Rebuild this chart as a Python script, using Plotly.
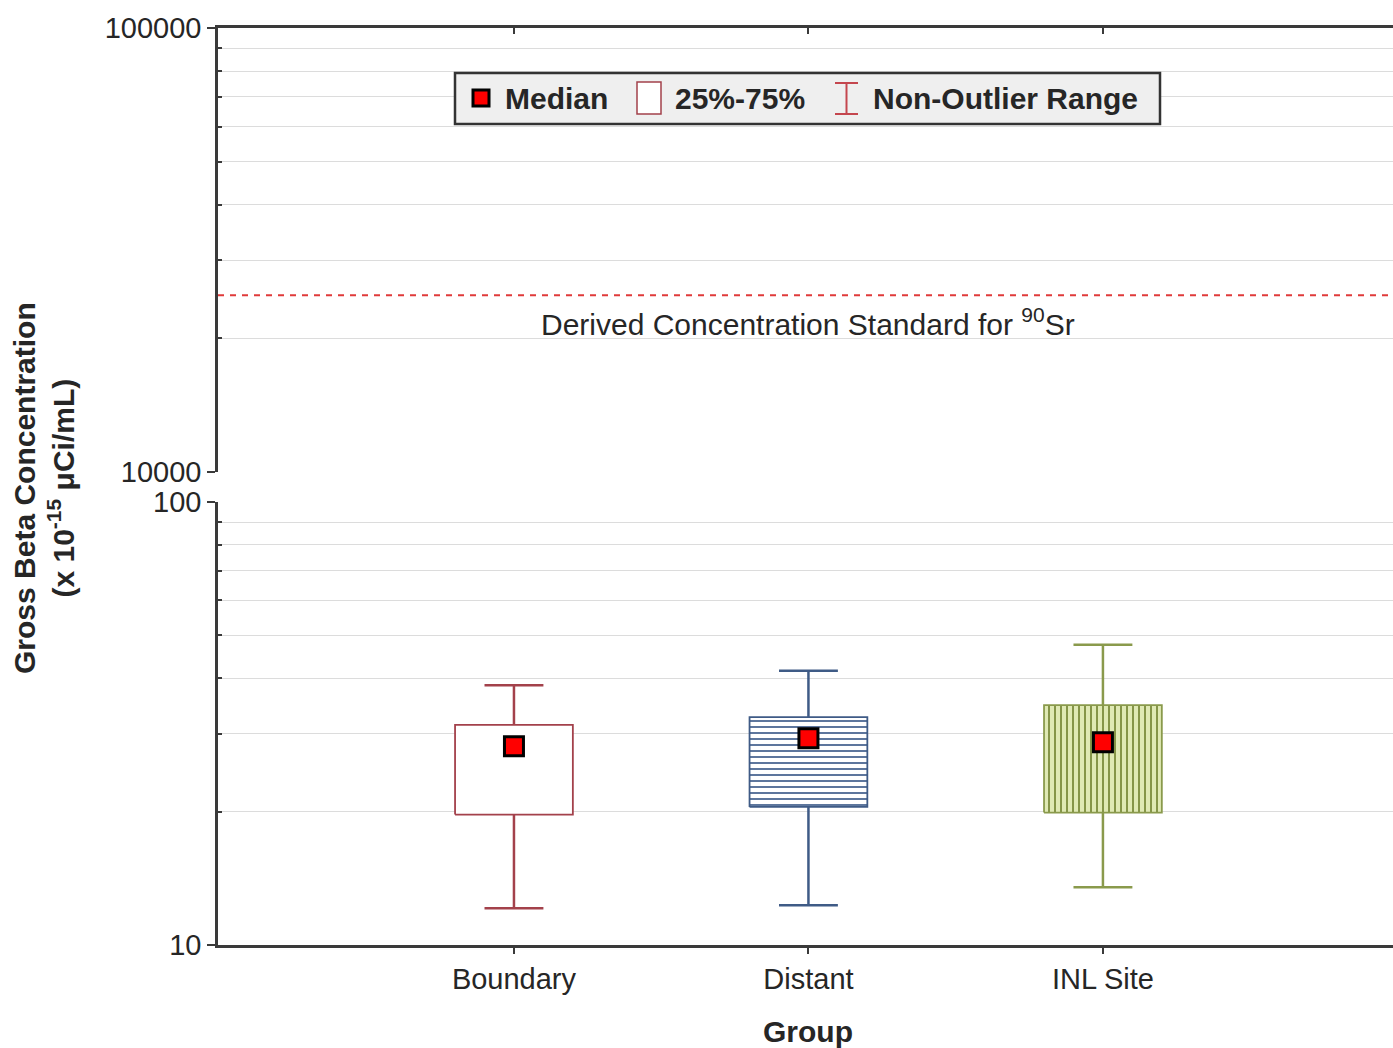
import numpy as np
import plotly.graph_objects as go

# Summary statistics per sampling group (x 10^-15 µCi/mL)
groups = ["Boundary", "Distant", "INL Site"]
q1 = [19.7, 20.5, 19.9]
q3 = [31.4, 32.7, 34.8]
median = [28.1, 29.3, 28.7]
whisker_low = [12.1, 12.3, 13.5]
whisker_high = [38.6, 41.6, 47.6]

# Derived Concentration Standard for Sr-90
dcs_value = 25000

lower_ticks = [10, 100]
upper_ticks = [10000, 100000]

# Styling
FONT = "Arial, Liberation Sans, sans-serif"
TEXT = "#262626"
AXIS = "#3a3a3a"
GRID = "#dcdcdc"
edge_colors = ["#a3414b", "#3f5b86", "#8a9a4c"]
fill_bg = ["#ffffff", "#ffffff", "#dfe9b4"]
patterns = ["", "-", "|"]
pattern_fg = ["#a3414b", "#4a6692", "#7b8c3c"]

W, H = 1393, 1048
ML, MR, MT, MB = 218, 0, 28, 103
PW, PH = W - ML - MR, H - MT - MB

def px_x(px):
    return (px - ML) / PW

def px_y(py):
    return (H - MB - py) / PH

positions = np.arange(1, len(groups) + 1)
box_half = 0.2
cap_half = 0.1

fig = go.Figure()

for i, g in enumerate(groups):
    p = positions[i]
    # whiskers with caps
    fig.add_trace(go.Scatter(
        x=[p, p, None, p - cap_half, p + cap_half, None,
           p, p, None, p - cap_half, p + cap_half],
        y=[q3[i], whisker_high[i], None, whisker_high[i], whisker_high[i], None,
           q1[i], whisker_low[i], None, whisker_low[i], whisker_low[i]],
        mode="lines", line=dict(color=edge_colors[i], width=2.5),
        showlegend=False, hoverinfo="skip", xaxis="x", yaxis="y"))
    # 25%-75% box
    fig.add_trace(go.Scatter(
        x=[p - box_half, p + box_half, p + box_half, p - box_half, p - box_half],
        y=[q1[i], q1[i], q3[i], q3[i], q1[i]],
        mode="lines", fill="toself",
        fillcolor=fill_bg[i],
        fillpattern=dict(shape=patterns[i], fgcolor=pattern_fg[i],
                         bgcolor=fill_bg[i], size=6, solidity=0.3,
                         fillmode="replace"),
        line=dict(color=edge_colors[i], width=1.8),
        showlegend=False, hoverinfo="skip", xaxis="x", yaxis="y"))

# medians
fig.add_trace(go.Scatter(
    x=positions, y=median, mode="markers",
    marker=dict(symbol="square", size=19, color="#ff0000",
                line=dict(color="#000000", width=3)),
    showlegend=False, hoverinfo="skip", xaxis="x", yaxis="y"))

# DCS reference line on the upper segment
x_range = [-0.005, 3.985]
fig.add_trace(go.Scatter(
    x=x_range, y=[dcs_value, dcs_value], mode="lines",
    line=dict(color="#e03a3a", width=2, dash="6px,6px"),
    showlegend=False, hoverinfo="skip", xaxis="x2", yaxis="y2"))

lower_dom = [0, (945 - 502) / PH]
upper_dom = [(945 - 472) / PH, 1]

tickfont = dict(family=FONT, size=29, color=TEXT)

fig.update_layout(
    width=W, height=H,
    margin=dict(l=ML, r=MR, t=MT, b=MB, pad=0),
    paper_bgcolor="white", plot_bgcolor="white",
    showlegend=False,
    xaxis=dict(
        domain=[0, 1], range=x_range, anchor="y",
        tickmode="array", tickvals=positions, ticktext=groups,
        tickfont=tickfont, ticks="outside", ticklen=6, tickwidth=2,
        tickcolor=AXIS, showline=True, linecolor=AXIS, linewidth=3,
        showgrid=False, zeroline=False),
    xaxis2=dict(
        domain=[0, 1], range=x_range, anchor="y2", side="top",
        matches="x", tickmode="array", tickvals=positions,
        showticklabels=False, ticks="inside", ticklen=6, tickwidth=2,
        tickcolor=AXIS, showline=True, linecolor=AXIS, linewidth=3,
        showgrid=False, zeroline=False),
    yaxis=dict(
        domain=lower_dom, type="log", range=[1, 2], anchor="x",
        tickmode="array", tickvals=lower_ticks,
        ticktext=[str(v) for v in lower_ticks], tickfont=tickfont,
        ticks="outside", ticklen=8, tickwidth=2, tickcolor=AXIS,
        showline=True, linecolor=AXIS, linewidth=2.5,
        showgrid=False, zeroline=False,
        minor=dict(tickmode="array",
                   tickvals=[k * 10 for k in range(2, 10)],
                   ticks="inside", ticklen=4, tickwidth=2, tickcolor=AXIS,
                   showgrid=True, gridcolor=GRID, gridwidth=1)),
    yaxis2=dict(
        domain=upper_dom, type="log", range=[4, 5], anchor="x2",
        tickmode="array", tickvals=upper_ticks,
        ticktext=[str(v) for v in upper_ticks], tickfont=tickfont,
        ticks="outside", ticklen=8, tickwidth=2, tickcolor=AXIS,
        showline=True, linecolor=AXIS, linewidth=2.5,
        showgrid=False, zeroline=False,
        minor=dict(tickmode="array",
                   tickvals=[k * 10000 for k in range(2, 10)],
                   ticks="inside", ticklen=4, tickwidth=2, tickcolor=AXIS,
                   showgrid=True, gridcolor=GRID, gridwidth=1)),
)

annotations = []
# DCS label under the line
annotations.append(dict(
    xref="x2", yref="y2", x=2, y=np.log10(dcs_value),
    yanchor="top", xanchor="center", yshift=-6, showarrow=False,
    text="Derived Concentration Standard for <sup>90</sup>Sr",
    font=dict(family=FONT, size=30, color=TEXT)))
# axis titles
annotations.append(dict(
    xref="paper", yref="paper", x=px_x(808), y=px_y(1031),
    xanchor="center", yanchor="middle", showarrow=False,
    text="<b>Group</b>", font=dict(family=FONT, size=30, color=TEXT)))
annotations.append(dict(
    xref="paper", yref="paper", x=px_x(44), y=px_y(488),
    xanchor="center", yanchor="middle", showarrow=False, textangle=-90,
    text="<b>Gross Beta Concentration<br>(x 10<sup>-15</sup> μCi/mL)</b>",
    font=dict(family=FONT, size=30, color=TEXT)))

# legend texts
legend_font = dict(family=FONT, size=30, color=TEXT)
for xpos, label in [(503, "<b>Median</b>"), (673, "<b>25%-75%</b>"),
                    (871, "<b>Non-Outlier Range</b>")]:
    annotations.append(dict(
        xref="paper", yref="paper", x=px_x(xpos), y=px_y(98),
        xanchor="left", yanchor="middle", showarrow=False,
        text=label, font=legend_font))

fig.update_layout(annotations=annotations)

shapes = []
# legend frame
shapes.append(dict(type="rect", xref="paper", yref="paper",
                   x0=px_x(455), x1=px_x(1160), y0=px_y(124), y1=px_y(73),
                   fillcolor="#efefef", line=dict(color="#333333", width=2.5)))
# median icon
shapes.append(dict(type="rect", xref="paper", yref="paper",
                   x0=px_x(473), x1=px_x(489), y0=px_y(106), y1=px_y(90),
                   fillcolor="#ff0000", line=dict(color="#000000", width=3)))
# box icon
shapes.append(dict(type="rect", xref="paper", yref="paper",
                   x0=px_x(637), x1=px_x(661), y0=px_y(114), y1=px_y(82),
                   fillcolor="#ffffff", line=dict(color="#a3414b", width=1.5)))
# whisker icon
whisk = "#c4464e"
shapes.append(dict(type="line", xref="paper", yref="paper",
                   x0=px_x(846.5), x1=px_x(846.5), y0=px_y(83), y1=px_y(114),
                   line=dict(color=whisk, width=2)))
shapes.append(dict(type="line", xref="paper", yref="paper",
                   x0=px_x(835), x1=px_x(858), y0=px_y(83), y1=px_y(83),
                   line=dict(color=whisk, width=2)))
shapes.append(dict(type="line", xref="paper", yref="paper",
                   x0=px_x(835), x1=px_x(858), y0=px_y(114), y1=px_y(114),
                   line=dict(color=whisk, width=2)))
fig.update_layout(shapes=shapes)

fig.write_html("out.html")
